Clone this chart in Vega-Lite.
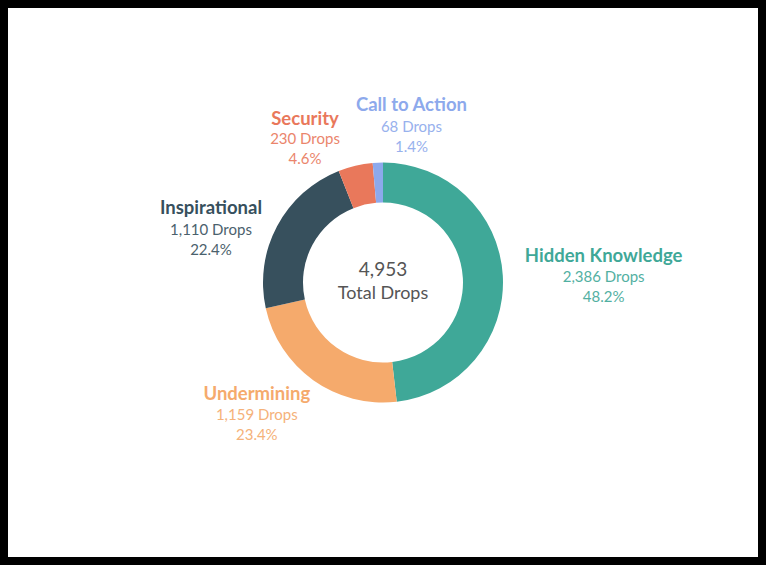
{
  "$schema": "https://vega.github.io/schema/vega-lite/v6.json",
  "width": 766,
  "height": 565,
  "padding": 0,
  "autosize": {"type": "fit", "contains": "padding"},
  "background": "white",
  "config": {
    "text": {"font": "Lato"}
  },
  "data": {
    "values": [
      {"category": "Hidden Knowledge", "drops": 2386, "sub": "2,386 Drops\n48.2%"},
      {"category": "Undermining", "drops": 1159, "sub": "1,159 Drops\n23.4%"},
      {"category": "Inspirational", "drops": 1110, "sub": "1,110 Drops\n22.4%"},
      {"category": "Security", "drops": 230, "sub": "230 Drops\n4.6%"},
      {"category": "Call to Action", "drops": 68, "sub": "68 Drops\n1.4%"}
    ]
  },
  "encoding": {
    "theta": {"field": "drops", "type": "quantitative", "stack": true},
    "order": {"field": "drops", "type": "quantitative", "sort": "descending"},
    "color": {
      "field": "category",
      "type": "nominal",
      "legend": null,
      "scale": {
        "domain": ["Hidden Knowledge", "Undermining", "Inspirational", "Security", "Call to Action"],
        "range": ["#3FA898", "#F5AA6C", "#37505D", "#E9785B", "#8DA9EC"]
      }
    }
  },
  "layer": [
    {
      "transform": [{"aggregate": [{"op": "sum", "field": "drops", "as": "total"}]}],
      "mark": {"type": "rect", "fill": null, "fillOpacity": 0, "stroke": "black", "strokeWidth": 8},
      "encoding": {"theta": null, "order": null, "color": null}
    },
    {"mark": {"type": "arc", "innerRadius": 80, "outerRadius": 120}},
    {
      "mark": {"type": "text", "radius": 221, "dx": 0, "dy": -14, "fontSize": 18.5, "fontWeight": "bold", "baseline": "middle", "align": "center"},
      "encoding": {"text": {"condition": {"test": "datum.category === 'Hidden Knowledge'", "field": "category"}, "value": ""}}
    },
    {
      "mark": {"type": "text", "radius": 221, "dx": 0, "dy": 12.5, "fontSize": 15, "lineBreak": "\n", "lineHeight": 20, "baseline": "alphabetic", "align": "center", "opacity": 0.9},
      "encoding": {"text": {"condition": {"test": "datum.category === 'Hidden Knowledge'", "field": "sub"}, "value": ""}}
    },
    {
      "mark": {"type": "text", "radius": 150, "dx": -39, "dy": -11, "fontSize": 18.5, "fontWeight": "bold", "baseline": "middle", "align": "center"},
      "encoding": {"text": {"condition": {"test": "datum.category === 'Undermining'", "field": "category"}, "value": ""}}
    },
    {
      "mark": {"type": "text", "radius": 150, "dx": -39, "dy": 15.9, "fontSize": 15, "lineBreak": "\n", "lineHeight": 20, "baseline": "alphabetic", "align": "center", "opacity": 0.9},
      "encoding": {"text": {"condition": {"test": "datum.category === 'Undermining'", "field": "sub"}, "value": ""}}
    },
    {
      "mark": {"type": "text", "radius": 185, "dx": -8.7, "dy": 12.6, "fontSize": 18.5, "fontWeight": "bold", "baseline": "middle", "align": "center"},
      "encoding": {"text": {"condition": {"test": "datum.category === 'Inspirational'", "field": "category"}, "value": ""}}
    },
    {
      "mark": {"type": "text", "radius": 185, "dx": -8.7, "dy": 38.9, "fontSize": 15, "lineBreak": "\n", "lineHeight": 20, "baseline": "alphabetic", "align": "center", "opacity": 0.9},
      "encoding": {"text": {"condition": {"test": "datum.category === 'Inspirational'", "field": "sub"}, "value": ""}}
    },
    {
      "mark": {"type": "text", "radius": 165, "dx": -40, "dy": -3.4, "fontSize": 18.5, "fontWeight": "bold", "baseline": "middle", "align": "center"},
      "encoding": {"text": {"condition": {"test": "datum.category === 'Security'", "field": "category"}, "value": ""}}
    },
    {
      "mark": {"type": "text", "radius": 165, "dx": -40, "dy": 21.6, "fontSize": 15, "lineBreak": "\n", "lineHeight": 20, "baseline": "alphabetic", "align": "center", "opacity": 0.9},
      "encoding": {"text": {"condition": {"test": "datum.category === 'Security'", "field": "sub"}, "value": ""}}
    },
    {
      "mark": {"type": "text", "radius": 175, "dx": 36, "dy": -2.5, "fontSize": 18.5, "fontWeight": "bold", "baseline": "middle", "align": "center"},
      "encoding": {"text": {"condition": {"test": "datum.category === 'Call to Action'", "field": "category"}, "value": ""}}
    },
    {
      "mark": {"type": "text", "radius": 175, "dx": 36, "dy": 24.8, "fontSize": 15, "lineBreak": "\n", "lineHeight": 20, "baseline": "alphabetic", "align": "center", "opacity": 0.9},
      "encoding": {"text": {"condition": {"test": "datum.category === 'Call to Action'", "field": "sub"}, "value": ""}}
    },
    {
      "transform": [{"aggregate": [{"op": "sum", "field": "drops", "as": "total"}]}],
      "mark": {"type": "text", "dy": -12.5, "fontSize": 19, "color": "#555555", "baseline": "middle", "align": "center"},
      "encoding": {
        "theta": null, "order": null, "color": null,
        "text": {"field": "total", "type": "quantitative", "format": ","}
      }
    },
    {
      "transform": [{"aggregate": [{"op": "sum", "field": "drops", "as": "total"}]}],
      "mark": {"type": "text", "dy": 11.5, "fontSize": 18, "color": "#555555", "baseline": "middle", "align": "center", "text": "Total Drops"},
      "encoding": {"theta": null, "order": null, "color": null}
    }
  ]
}
